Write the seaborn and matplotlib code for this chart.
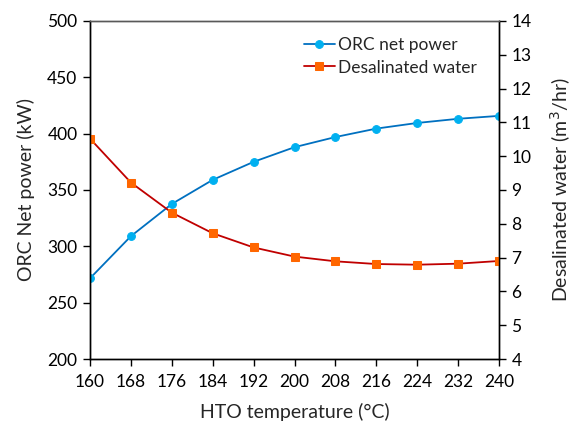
import matplotlib
matplotlib.use("Agg")
import matplotlib.pyplot as plt
import seaborn as sns
import pandas as pd

temperature = [160, 168, 176, 184, 192, 200, 208, 216, 224, 232, 240]
orc_net_power = [271.6, 309.0, 337.6, 359.0, 375.0, 388.0, 397.0, 404.5, 409.5, 413.2, 415.8]
desalinated_water = [10.52, 9.22, 8.33, 7.72, 7.30, 7.03, 6.89, 6.81, 6.79, 6.82, 6.90]

left_ticks = [200, 250, 300, 350, 400, 450, 500]
right_ticks = [4, 5, 6, 7, 8, 9, 10, 11, 12, 13, 14]

sns.set_theme(style="white")
plt.rcParams["font.family"] = ["Lato", "DejaVu Sans"]

df = pd.DataFrame({"t": temperature, "p": orc_net_power, "w": desalinated_water})

fig = plt.figure(figsize=(5.73, 4.28), dpi=100)
ax = fig.add_axes([90 / 573, 1 - 359 / 428, (499 - 90) / 573, (359 - 21) / 428])
ax2 = ax.twinx()

sns.lineplot(data=df, x="t", y="p", ax=ax, color="#0070C0", lw=1.3,
             marker="o", markersize=5.6, markerfacecolor="#00B0F0",
             markeredgecolor="#00B0F0", label="ORC net power", legend=False)
sns.lineplot(data=df, x="t", y="w", ax=ax2, color="#C00000", lw=1.3,
             marker="s", markersize=5.2, markerfacecolor="#FF6600",
             markeredgecolor="#FF6600", label="Desalinated water", legend=False)

ax.set_xlim(160, 240)
ax.set_ylim(200, 500)
ax2.set_ylim(4, 14)
ax.set_xticks(temperature)
ax.set_yticks(left_ticks)
ax2.set_yticks(right_ticks)

fs = 12.5
ax.tick_params(axis="both", labelsize=fs, colors="black", direction="out",
               length=5, width=1, pad=4)
ax.tick_params(axis="x", bottom=True, pad=6)
ax.tick_params(axis="y", left=True)
ax2.tick_params(axis="y", labelsize=fs, colors="black", direction="out",
                length=5, width=1, right=True, pad=4)

for a in (ax, ax2):
    for side in ("left", "right", "bottom"):
        a.spines[side].set_color("black")
        a.spines[side].set_linewidth(1.0)
    a.spines["top"].set_color("#595959")
    a.spines["top"].set_linewidth(1.0)

ax.set_xlabel("HTO temperature (°C)", fontsize=14, labelpad=9)
ax.set_ylabel("ORC Net power (kW)", fontsize=14, labelpad=9)
ax2.set_ylabel("Desalinated water (m$^3$/hr)", fontsize=14, labelpad=12)

h1, l1 = ax.get_legend_handles_labels()
h2, l2 = ax2.get_legend_handles_labels()
ax2.legend(h1 + h2, l1 + l2, loc="upper right", bbox_to_anchor=(0.985, 1.0),
           frameon=False, fontsize=fs, handlelength=1.8, handletextpad=0.2,
           labelspacing=0.4)

fig.savefig("out.png", dpi=100)
